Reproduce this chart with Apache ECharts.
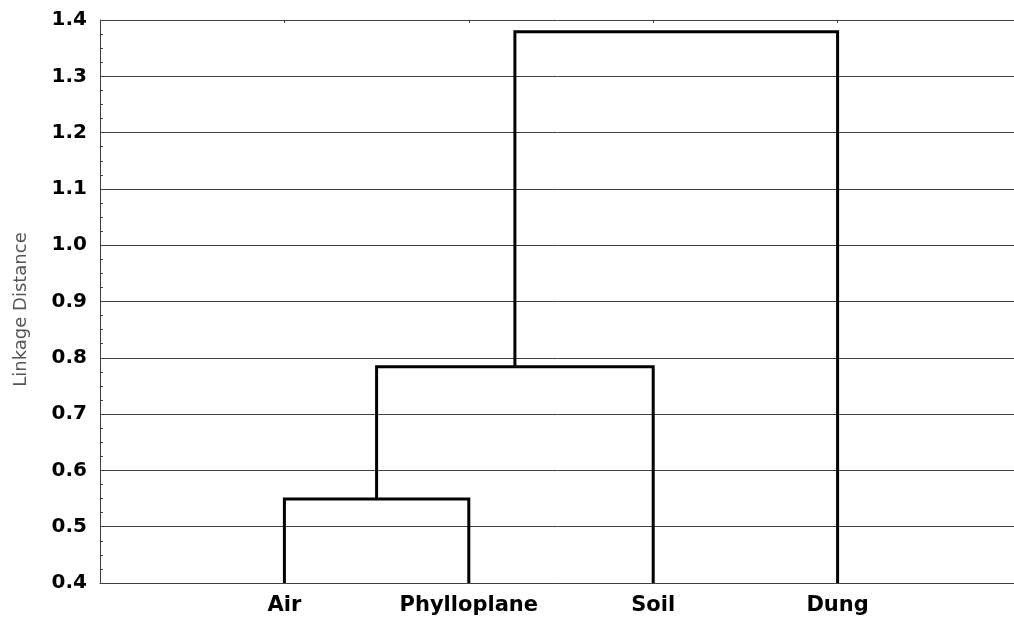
<!DOCTYPE html>
<html>
<head>
<meta charset="utf-8">
<script src="https://cdn.jsdelivr.net/npm/echarts@6/dist/echarts.min.js"></script>
<style>
html,body{margin:0;padding:0;background:#fff;}
#c{width:1014px;height:623px;}
</style>
</head>
<body>
<div id="c"></div>
<script>
// Leaves of the dendrogram (left to right)
const leaves = ['Air', 'Phylloplane', 'Soil', 'Dung'];
// Merges: node ids 0..3 are leaves, each merge creates a new node id (4, 5, 6)
const mergeLeft = [0, 4, 5];
const mergeRight = [1, 2, 3];
const mergeHeight = [0.549, 0.784, 1.379];
// Y axis ticks
const yMin = 0.4, yMax = 1.4, yStep = 0.1;
const yAxisTitle = 'Linkage Distance';

const nodeX = leaves.map((_, i) => i + 1);
const nodeH = leaves.map(() => yMin);
const series = [];
mergeHeight.forEach((h, k) => {
  const a = mergeLeft[k], b = mergeRight[k];
  series.push({
    type: 'line',
    data: [[nodeX[a], nodeH[a]], [nodeX[a], h], [nodeX[b], h], [nodeX[b], nodeH[b]]],
    symbol: 'none',
    silent: true,
    clip: false,
    lineStyle: { color: '#000', width: 3, join: 'miter', cap: 'butt' },
    z: 5
  });
  nodeX.push((nodeX[a] + nodeX[b]) / 2);
  nodeH.push(h);
});

const chart = echarts.init(document.getElementById('c'), null, { renderer: 'canvas' });
const axisColor = '#404040';
chart.setOption({
  animation: false,
  backgroundColor: '#fff',
  grid: { left: 100, top: 20, height: 563, width: 922, containLabel: false, outerBoundsMode: 'none' },
  xAxis: [{
    type: 'value', position: 'bottom', min: 0, max: leaves.length + 1, interval: 1,
    axisLine: { show: true, lineStyle: { color: axisColor, width: 1 } },
    axisTick: { show: true, inside: true, length: 3, lineStyle: { color: axisColor } },
    splitLine: { show: false },
    axisLabel: {
      margin: 12, color: '#000', fontFamily: 'DejaVu Sans', fontWeight: 'bold', fontSize: 21,
      formatter: v => leaves[Math.round(v) - 1] || '',
      showMinLabel: true, showMaxLabel: true
    }
  }, {
    type: 'value', position: 'top', min: 0, max: leaves.length + 1, interval: 1,
    axisLine: { show: false },
    axisTick: { show: true, inside: true, length: 3, lineStyle: { color: axisColor } },
    splitLine: { show: false },
    axisLabel: { show: false }
  }],
  yAxis: {
    type: 'value', min: yMin, max: yMax, interval: yStep,
    name: yAxisTitle, nameLocation: 'middle', nameGap: 70,
    nameTextStyle: { fontFamily: 'DejaVu Sans', fontSize: 18, color: '#555', padding: [0, 16, 0, 0] },
    axisLine: { show: true, lineStyle: { color: axisColor, width: 1 } },
    axisTick: { show: true, inside: true, length: 3, lineStyle: { color: axisColor } },
    minorTick: { show: true, splitNumber: 4, length: 3, lineStyle: { color: axisColor } },
    splitLine: { show: true, lineStyle: { color: axisColor, width: 1 } },
    axisLabel: {
      margin: 13, color: '#000', fontFamily: 'DejaVu Sans', fontWeight: 'bold', fontSize: 20,
      formatter: v => v.toFixed(1)
    }
  },
  series: series
});
</script>
</body>
</html>
